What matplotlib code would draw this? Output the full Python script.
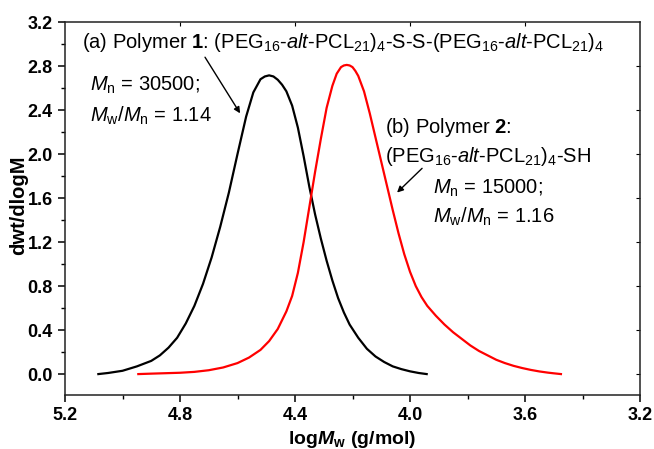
import matplotlib
matplotlib.use("Agg")
import matplotlib.pyplot as plt
from matplotlib.ticker import MultipleLocator

plt.rcParams["font.family"] = ["Liberation Sans", "DejaVu Sans"]
plt.rcParams["mathtext.fontset"] = "custom"
plt.rcParams["mathtext.rm"] = "Liberation Sans"
plt.rcParams["mathtext.it"] = "Liberation Sans:italic"
plt.rcParams["mathtext.bf"] = "Liberation Sans:bold"
plt.rcParams["mathtext.bfit"] = "Liberation Sans:bold:italic"

# GPC traces (logMw, dwt/dlogM)
# polymer 1: (PEG16-alt-PCL21)4-S-S-(PEG16-alt-PCL21)4
logm_p1 = [5.084, 5.05, 5.00, 4.95, 4.90, 4.87, 4.84, 4.81, 4.78, 4.75,
           4.72, 4.69, 4.66, 4.63, 4.60, 4.57, 4.545, 4.52, 4.505, 4.49,
           4.475, 4.46, 4.445, 4.43, 4.41, 4.39, 4.37, 4.35, 4.33, 4.31,
           4.29, 4.27, 4.25, 4.23, 4.21, 4.18, 4.15, 4.12, 4.09, 4.06,
           4.03, 4.00, 3.97, 3.942]
wt_p1 = [0.00, 0.01, 0.03, 0.07, 0.12, 0.17, 0.24, 0.33, 0.46, 0.62,
         0.82, 1.06, 1.34, 1.65, 2.00, 2.34, 2.56, 2.68, 2.705, 2.715,
         2.705, 2.675, 2.63, 2.57, 2.44, 2.24, 1.98, 1.70, 1.45, 1.23,
         1.03, 0.85, 0.69, 0.56, 0.45, 0.33, 0.23, 0.16, 0.11, 0.07,
         0.045, 0.025, 0.01, 0.00]

# polymer 2: (PEG16-alt-PCL21)4-SH
logm_p2 = [4.945, 4.90, 4.85, 4.80, 4.75, 4.70, 4.65, 4.60, 4.56, 4.52,
           4.49, 4.46, 4.43, 4.41, 4.39, 4.37, 4.35, 4.33, 4.31, 4.29,
           4.27, 4.255, 4.24, 4.23, 4.22, 4.21, 4.20, 4.19, 4.18, 4.16,
           4.14, 4.12, 4.10, 4.08, 4.06, 4.04, 4.02, 4.00, 3.98, 3.96,
           3.94, 3.91, 3.88, 3.85, 3.82, 3.79, 3.76, 3.73, 3.70, 3.67,
           3.64, 3.61, 3.58, 3.55, 3.52, 3.50, 3.475]
wt_p2 = [0.00, 0.004, 0.008, 0.012, 0.02, 0.035, 0.06, 0.10, 0.15, 0.22,
         0.30, 0.41, 0.57, 0.71, 0.92, 1.20, 1.52, 1.84, 2.14, 2.42,
         2.62, 2.73, 2.79, 2.805, 2.81, 2.805, 2.79, 2.755, 2.71, 2.57,
         2.37, 2.15, 1.93, 1.71, 1.49, 1.28, 1.09, 0.93, 0.80, 0.70,
         0.62, 0.53, 0.45, 0.38, 0.32, 0.26, 0.21, 0.17, 0.13, 0.10,
         0.075, 0.055, 0.038, 0.024, 0.013, 0.007, 0.00]

x_ticks = [5.2, 4.8, 4.4, 4.0, 3.6, 3.2]
y_ticks = [0.0, 0.4, 0.8, 1.2, 1.6, 2.0, 2.4, 2.8, 3.2]

fig = plt.figure(figsize=(6.54, 4.49), dpi=100)
ax = fig.add_axes([0.0994, 0.1203, 0.8792, 0.8307])

ax.plot(logm_p1, wt_p1, color="black", lw=1.6, solid_joinstyle="round")
ax.plot(logm_p2, wt_p2, color="#ff0000", lw=1.6, solid_joinstyle="round")

ax.set_xlim(5.2, 3.2)
ax.set_ylim(-0.19, 3.2)
ax.set_xticks(x_ticks)
ax.set_xticklabels([f"{v:.1f}" for v in x_ticks])
ax.set_yticks(y_ticks)
ax.set_yticklabels([f"{v:.1f}" for v in y_ticks])
ax.xaxis.set_minor_locator(MultipleLocator(0.2))
ax.yaxis.set_minor_locator(MultipleLocator(0.2))

for s in ax.spines.values():
    s.set_linewidth(1.1)
    s.set_color("#222222")
ax.tick_params(which="major", direction="out", length=5, width=1.1,
               labelsize=13, pad=4)
ax.tick_params(which="minor", direction="out", length=3, width=1.0)
for lab in ax.get_xticklabels() + ax.get_yticklabels():
    lab.set_fontweight("bold")

# mirrored inward ticks on the top/right frame
sec_x = ax.secondary_xaxis("top")
sec_x.set_xticks([4.8, 4.4, 4.0, 3.6])
sec_x.tick_params(direction="in", length=3, labeltop=False)
sec_y = ax.secondary_yaxis("right")
sec_y.set_yticks(y_ticks[:-1])
sec_y.tick_params(direction="in", length=3, labelright=False)
sec_x.spines["top"].set_visible(False)
sec_y.spines["right"].set_visible(False)

ax.set_xlabel(r"log$\mathbfit{M}_\mathbf{w}$ (g/mol)", fontsize=14,
              fontweight="bold", labelpad=3)
ax.set_ylabel("dwt/dlogM", fontsize=14.5, fontweight="bold")
ax.yaxis.set_label_coords(-0.081, 0.51)
ax.yaxis.label.set_va("center")

fs = 14.5
ax.text(5.141, 3.01,
        r"(a) Polymer $\mathbf{1}$: (PEG$_{16}$-$\mathit{alt}$-PCL$_{21}$)$_4$"
        r"-S-S-(PEG$_{16}$-$\mathit{alt}$-PCL$_{21}$)$_4$",
        fontsize=fs, va="center", ha="left")
ax.text(5.113, 2.62, r"$\mathit{M}_\mathrm{n}$ = 30500;", fontsize=fs,
        va="center", ha="left")
ax.text(5.113, 2.35, r"$\mathit{M}_\mathrm{w}$/$\mathit{M}_\mathrm{n}$ = 1.14",
        fontsize=fs, va="center", ha="left")
ax.annotate("", xy=(4.591, 2.37), xytext=(4.713, 2.88),
            arrowprops=dict(arrowstyle="-|>", color="black", lw=1.0,
                            mutation_scale=9, shrinkA=0, shrinkB=0))

ax.text(4.087, 2.24, r"(b) Polymer $\mathbf{2}$:", fontsize=fs,
        va="center", ha="left")
ax.text(4.087, 1.98, r"(PEG$_{16}$-$\mathit{alt}$-PCL$_{21}$)$_4$-SH",
        fontsize=fs, va="center", ha="left")
ax.text(3.92, 1.69, r"$\mathit{M}_\mathrm{n}$ = 15000;", fontsize=fs,
        va="center", ha="left")
ax.text(3.92, 1.43, r"$\mathit{M}_\mathrm{w}$/$\mathit{M}_\mathrm{n}$ = 1.16",
        fontsize=fs, va="center", ha="left")
ax.annotate("", xy=(4.045, 1.65), xytext=(3.958, 1.87),
            arrowprops=dict(arrowstyle="-|>", color="black", lw=1.0,
                            mutation_scale=9, shrinkA=0, shrinkB=0))

fig.savefig("out.png", dpi=100)
